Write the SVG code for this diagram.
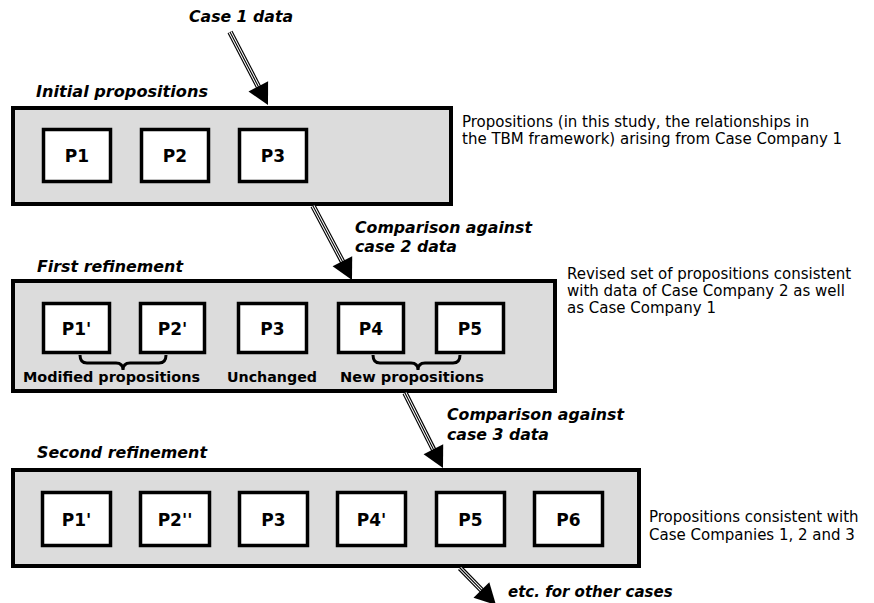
<svg xmlns="http://www.w3.org/2000/svg" width="874" height="603" viewBox="0 0 874 603">
  <style>
    .stage { fill: #dcdcdc; stroke: #000; stroke-width: 4; }
    .prop { fill: #fff; stroke: #000; stroke-width: 3.5; }
    .plabel { font-family: "DejaVu Sans", Verdana, sans-serif; font-weight: bold; font-size: 17px; text-anchor: middle; fill: #000; }
    .title { font-family: "DejaVu Sans", Verdana, sans-serif; font-weight: bold; font-style: italic; font-size: 15px; fill: #000; }
    .note { font-family: "DejaVu Sans", Verdana, sans-serif; font-size: 15px; fill: #000; }
    .group { font-family: "DejaVu Sans", Verdana, sans-serif; font-weight: bold; font-size: 13.5px; fill: #000; }
    .brace { fill: none; stroke: #000; stroke-width: 3; }
    .w1 { stroke: #000; stroke-width: 5.5; fill: none; }
    .w2 { stroke: #fff; stroke-width: 3.2; fill: none; }
    .w3 { stroke: #000; stroke-width: 1.1; fill: none; }
    .head { fill: #000; stroke: none; }
  </style>

  <!-- Stage 1: initial propositions -->
  <g id="stage1">
    <text class="title" x="36" y="97" textLength="172" lengthAdjust="spacingAndGlyphs">Initial propositions</text>
    <rect class="stage" x="13" y="108" width="438" height="96"/>
    <g id="s1-p1"><rect class="prop" x="43.5" y="129.5" width="67" height="52"/><text class="plabel" x="77" y="162">P1</text></g>
    <g id="s1-p2"><rect class="prop" x="141.5" y="129.5" width="67" height="52"/><text class="plabel" x="175" y="162">P2</text></g>
    <g id="s1-p3"><rect class="prop" x="239.5" y="129.5" width="67" height="52"/><text class="plabel" x="273" y="162">P3</text></g>
    <text class="note" x="462" y="127">Propositions (in this study, the relationships in</text>
    <text class="note" x="462" y="144">the TBM framework) arising from Case Company 1</text>
  </g>

  <!-- Stage 2: first refinement -->
  <g id="stage2">
    <text class="title" x="37" y="272" textLength="146" lengthAdjust="spacingAndGlyphs">First refinement</text>
    <rect class="stage" x="13" y="281" width="542" height="110"/>
    <g id="s2-p1"><rect class="prop" x="43.5" y="303.5" width="66" height="49"/><text class="plabel" x="76.5" y="334.5">P1'</text></g>
    <g id="s2-p2"><rect class="prop" x="140.5" y="303.5" width="64" height="49"/><text class="plabel" x="172.5" y="334.5">P2'</text></g>
    <g id="s2-p3"><rect class="prop" x="238.5" y="303.5" width="68" height="49"/><text class="plabel" x="272.5" y="334.5">P3</text></g>
    <g id="s2-p4"><rect class="prop" x="338.5" y="303.5" width="65" height="49"/><text class="plabel" x="371" y="334.5">P4</text></g>
    <g id="s2-p5"><rect class="prop" x="436.5" y="303.5" width="67" height="49"/><text class="plabel" x="470" y="334.5">P5</text></g>
    <path class="brace" d="M80,355 Q80,363 87,363 L116,363 Q123,363 123,370 Q123,363 130,363 L159,363 Q166,363 166,355"/>
    <path class="brace" d="M373,355 Q373,363 380,363 L411,363 Q418,363 418,370 Q418,363 425,363 L453,363 Q460,363 460,355"/>
    <text class="group" x="23" y="382" textLength="177" lengthAdjust="spacingAndGlyphs">Modified propositions</text>
    <text class="group" x="227" y="382" textLength="90" lengthAdjust="spacingAndGlyphs">Unchanged</text>
    <text class="group" x="340" y="382" textLength="144" lengthAdjust="spacingAndGlyphs">New propositions</text>
    <text class="note" x="567" y="279">Revised set of propositions consistent</text>
    <text class="note" x="567" y="296">with data of Case Company 2 as well</text>
    <text class="note" x="567" y="313">as Case Company 1</text>
  </g>

  <!-- Stage 3: second refinement -->
  <g id="stage3">
    <text class="title" x="37" y="458" textLength="170" lengthAdjust="spacingAndGlyphs">Second refinement</text>
    <rect class="stage" x="13" y="470" width="626" height="96"/>
    <g id="s3-p1"><rect class="prop" x="42.5" y="492.5" width="68" height="53"/><text class="plabel" x="76.5" y="525.5">P1'</text></g>
    <g id="s3-p2"><rect class="prop" x="140.5" y="492.5" width="69" height="53"/><text class="plabel" x="175" y="525.5">P2''</text></g>
    <g id="s3-p3"><rect class="prop" x="239.5" y="492.5" width="68" height="53"/><text class="plabel" x="273.5" y="525.5">P3</text></g>
    <g id="s3-p4"><rect class="prop" x="337.5" y="492.5" width="68" height="53"/><text class="plabel" x="371.5" y="525.5">P4'</text></g>
    <g id="s3-p5"><rect class="prop" x="436.5" y="492.5" width="68" height="53"/><text class="plabel" x="470.5" y="525.5">P5</text></g>
    <g id="s3-p6"><rect class="prop" x="534.5" y="492.5" width="68" height="53"/><text class="plabel" x="568.5" y="525.5">P6</text></g>
    <text class="note" x="649" y="522">Propositions consistent with</text>
    <text class="note" x="649" y="540">Case Companies 1, 2 and 3</text>
  </g>

  <!-- Connectors: triple-stroke shafts with solid heads -->
  <g id="connectors">
    <g id="arrow-case1">
      <path class="w1" d="M230,32 L259.2,88.2"/>
      <path class="w2" d="M230,32 L259.2,88.2"/>
      <path class="w3" d="M230,32 L259.2,88.2"/>
      <polygon class="head" points="268,105 268.1,81.3 248.5,91.5"/>
    </g>
    <g id="arrow-case2">
      <path class="w1" d="M313,206 L343.3,263.1"/>
      <path class="w2" d="M313,206 L343.3,263.1"/>
      <path class="w3" d="M313,206 L343.3,263.1"/>
      <polygon class="head" points="352,280 352.2,256.3 332.6,266.3"/>
    </g>
    <g id="arrow-case3">
      <path class="w1" d="M405,393 L434.3,451.1"/>
      <path class="w2" d="M405,393 L434.3,451.1"/>
      <path class="w3" d="M405,393 L434.3,451.1"/>
      <polygon class="head" points="443,468 443.2,444.3 423.6,454.3"/>
    </g>
    <g id="arrow-etc">
      <path class="w1" d="M460,568 L482.8,591.4"/>
      <path class="w2" d="M460,568 L482.8,591.4"/>
      <path class="w3" d="M460,568 L482.8,591.4"/>
      <polygon class="head" points="496,605 489.3,582.3 473.5,597.7"/>
    </g>
  </g>

  <!-- Connector labels -->
  <g id="connector-labels">
    <text class="title" x="189" y="22" textLength="104" lengthAdjust="spacingAndGlyphs">Case 1 data</text>
    <text class="title" x="355" y="233" textLength="177" lengthAdjust="spacingAndGlyphs">Comparison against</text>
    <text class="title" x="355" y="252" textLength="102" lengthAdjust="spacingAndGlyphs">case 2 data</text>
    <text class="title" x="447" y="420" textLength="177" lengthAdjust="spacingAndGlyphs">Comparison against</text>
    <text class="title" x="447" y="440" textLength="102" lengthAdjust="spacingAndGlyphs">case 3 data</text>
    <text class="title" x="508" y="597">etc. for other cases</text>
  </g>
</svg>
